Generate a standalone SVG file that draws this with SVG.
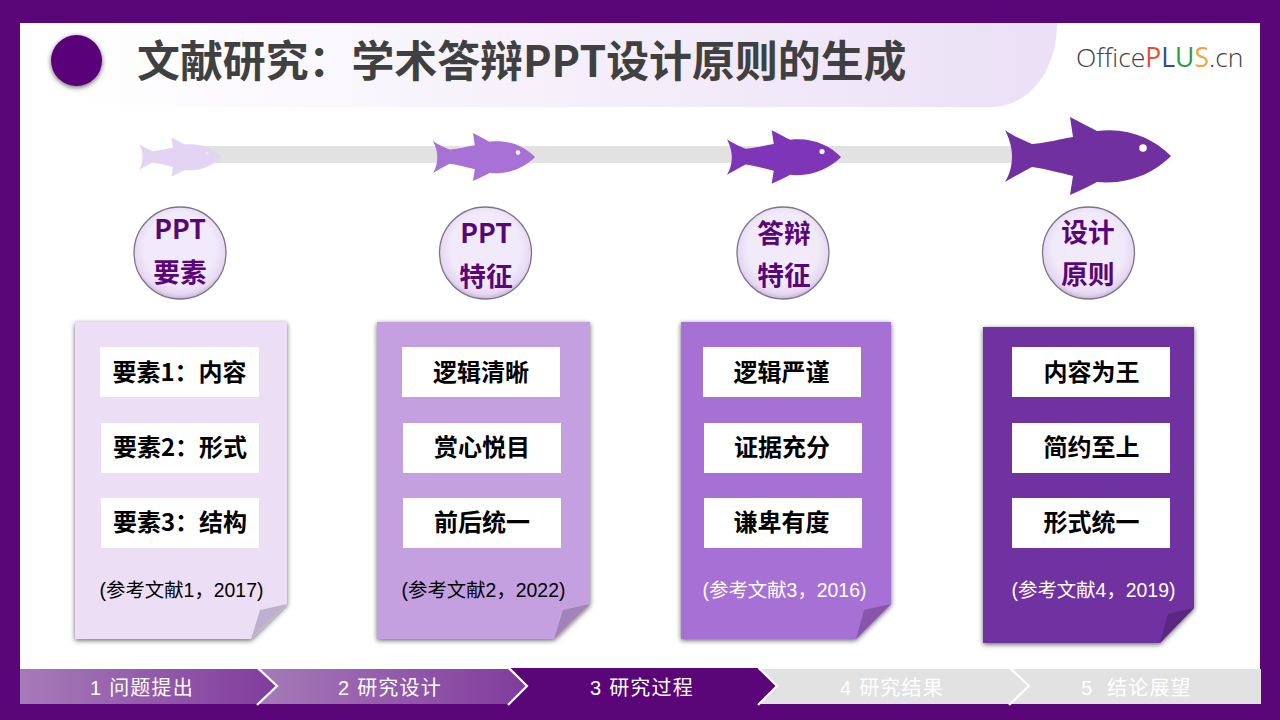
<svg xmlns="http://www.w3.org/2000/svg" xmlns:xlink="http://www.w3.org/1999/xlink" width="1280" height="720" viewBox="0 0 1280 720">
<style>
text{font-family:"Noto Sans CJK SC","Microsoft YaHei",sans-serif;text-anchor:middle}
.t{font-size:42.9px;font-weight:700;fill:#404040;text-anchor:start}
.c{font-size:26.67px;font-weight:700;fill:#5a0578}
.b{font-size:24px;font-weight:700;fill:#000}
.r{font-size:19.4px;font-family:"Liberation Sans","Noto Sans CJK SC",sans-serif}
.n{font-size:20px;fill:#fff;letter-spacing:1.200px;font-family:"Liberation Sans","Noto Sans CJK SC",sans-serif}
.box{fill:#fff}
.chev{fill:none;stroke:#fff;stroke-width:2.200}
.circ{fill:url(#cg);stroke:#7d7488;stroke-width:1.300}
</style>
<defs>
<linearGradient id="hg" x1="0" y1="0" x2="1" y2="0"><stop offset="0.05" stop-color="#fff"/><stop offset="1" stop-color="#ebe0f6"/></linearGradient>
<linearGradient id="ng" x1="0" y1="0" x2="1" y2="0"><stop offset="0" stop-color="#a67bb9"/><stop offset="1" stop-color="#803c9c"/></linearGradient>
<radialGradient id="cg" cx="0.5" cy="0.45" r="0.55"><stop offset="0.7" stop-color="#f1eafa"/><stop offset="0.9" stop-color="#e6d8f2"/><stop offset="1" stop-color="#c9b2da"/></radialGradient>
<filter id="sh" x="-15%" y="-15%" width="130%" height="130%"><feDropShadow dx="0" dy="1.500" stdDeviation="2.500" flood-color="#000" flood-opacity="0.6"/></filter>
<path id="fish" d="M0-26C8-20 18-16 27-12C42-13 55-17 68-19L65-39C75-34 84-29 92-25C125-29 150-16 166 0C150 16 125 29 92 26C84 30 75 35 65 39L68 20C55 17 42 13 27 11C18 16 8 21 0 26C5 18 7 9 7 0C7-9 4-18 0-26Z"/>
</defs>
<rect id="frame" width="1280" height="720" fill="#5a0578"/>
<rect id="page" x="20" y="23" width="1240" height="681" fill="#fff"/>
<g id="header">
<path d="M20 23H1057C1057 70 1030 107 990 107H20Z" fill="url(#hg)"/>
<circle cx="76.500" cy="60.500" r="25.500" fill="#5a0578" filter="url(#sh)"/>
<text class="t" x="137" y="77">文献研究&#xFF1A;学术答辩PPT设计原则的生成</text>
<text x="1076" y="67" style="text-anchor:start;font-family:'Open Sans',sans-serif;font-weight:300;font-size:26.500px" fill="#444">Office<tspan fill="#e4512b" font-weight="400">P</tspan><tspan fill="#2b4a9c" font-weight="400">L</tspan><tspan fill="#2c9a47" font-weight="400">U</tspan><tspan fill="#f2a33a" font-weight="400">S</tspan>.cn</text>
</g>
<g id="connectors">
<rect x="200" y="146" width="820" height="17" fill="#e2e2e2"/>
</g>
<g id="fish1"><use xlink:href="#fish" href="#fish" transform="translate(139 157) scale(.5)" fill="#e3d4f3"/><circle cx="207" cy="153" r="1.600" fill="#eee5f8"/></g>
<g id="fish2"><use xlink:href="#fish" href="#fish" transform="translate(433 157) scale(.615)" fill="#a871d6"/><circle cx="518" cy="152.500" r="2.300" fill="#fff"/></g>
<g id="fish3"><use xlink:href="#fish" href="#fish" transform="translate(727 157) scale(.687)" fill="#7f35b8"/><circle cx="822" cy="151.500" r="2.600" fill="#fff"/></g>
<g id="fish4"><use xlink:href="#fish" href="#fish" transform="translate(1005 156)" fill="#7030a0"/><circle cx="1143" cy="148" r="3.800" fill="#fff"/></g>
<g id="node1">
<circle class="circ" cx="180" cy="253" r="46"/>
<text class="c" x="180" y="239">PPT</text><text class="c" x="180" y="282">要素</text>
<path d="M75 322H287V604L251 639H75Z" fill="#ecdff5" filter="url(#sh)"/>
<path d="M287 604L260 610L251 639Z" fill="#bdb0cf"/>
<rect class="box" x="100" y="347" width="159" height="50"/><rect class="box" x="101" y="423" width="158" height="50"/><rect class="box" x="101" y="498" width="158" height="50"/>
<text class="b" x="179.500" y="381">要素1&#xFF1A;内容</text><text class="b" x="180" y="456">要素2&#xFF1A;形式</text><text class="b" x="180" y="531">要素3&#xFF1A;结构</text>
<text class="r" x="181.500" y="597" fill="#000">(参考文献1&#xFF0C;2017)</text>
</g>
<g id="node2">
<circle class="circ" cx="485.500" cy="253" r="46"/>
<text class="c" x="486" y="243">PPT</text><text class="c" x="486" y="286">特征</text>
<path d="M377 322H590V604L554 639H377Z" fill="#c5a0e0" filter="url(#sh)"/>
<path d="M590 604L563 610L554 639Z" fill="#a183b8"/>
<rect class="box" x="402" y="347" width="158" height="50"/><rect class="box" x="403" y="423" width="158" height="50"/><rect class="box" x="403" y="498" width="158" height="50"/>
<text class="b" x="481" y="381">逻辑清晰</text><text class="b" x="482" y="456">赏心悦目</text><text class="b" x="482" y="531">前后统一</text>
<text class="r" x="483.500" y="597" fill="#000">(参考文献2&#xFF0C;2022)</text>
</g>
<g id="node3">
<circle class="circ" cx="783" cy="253" r="46"/>
<text class="c" x="784" y="243">答辩</text><text class="c" x="784" y="285">特征</text>
<path d="M681 322H891V604L856 639H681Z" fill="#a770d5" filter="url(#sh)"/>
<path d="M891 604L864 610L856 639Z" fill="#8755ab"/>
<rect class="box" x="703" y="347" width="158" height="50"/><rect class="box" x="704" y="423" width="158" height="50"/><rect class="box" x="704" y="498" width="158" height="50"/>
<text class="b" x="781.500" y="381">逻辑严谨</text><text class="b" x="782" y="456">证据充分</text><text class="b" x="781.500" y="531">谦卑有度</text>
<text class="r" x="784.500" y="597" fill="#fff">(参考文献3&#xFF0C;2016)</text>
</g>
<g id="node4">
<circle class="circ" cx="1088.500" cy="253" r="46"/>
<text class="c" x="1088" y="241.500">设计</text><text class="c" x="1088" y="283.500">原则</text>
<path d="M983 327H1194V608L1160 643H983Z" fill="#7030a0" filter="url(#sh)"/>
<path d="M1194 608L1168 614L1160 643Z" fill="#592880"/>
<rect class="box" x="1012" y="347" width="158" height="50"/><rect class="box" x="1012" y="423" width="158" height="50"/><rect class="box" x="1012" y="498" width="158" height="50"/>
<text class="b" x="1091.500" y="381">内容为王</text><text class="b" x="1091.500" y="456">简约至上</text><text class="b" x="1091.500" y="531">形式统一</text>
<text class="r" x="1093.500" y="597" fill="#fff">(参考文献4&#xFF0C;2019)</text>
</g>
<g id="nav">
<g id="nav1"><path d="M20 669H257L277 686L257 704H20Z" fill="url(#ng)"/><text class="n" x="142" y="695">1 问题提出</text></g>
<g id="nav2"><path d="M257 669H508L527 686L508 704H257L277 686Z" fill="url(#ng)"/><text class="n" x="390" y="695">2 研究设计</text></g>
<g id="nav3"><path d="M508 668H758L777 686L758 704H508L527 686Z" fill="#5a0578"/><text class="n" x="642" y="695">3 研究过程</text></g>
<g id="nav4"><path d="M758 669H1009L1029 686L1009 704H758L777 686Z" fill="#e2e2e2"/><text class="n" x="892" y="695">4 研究结果</text></g>
<g id="nav5"><path d="M1009 669H1261V704H1009L1029 686Z" fill="#e2e2e2"/><text class="n" x="1136.500" y="695">5 &#160;结论展望</text></g>
<path class="chev" d="M257 667L277 686L257 705"/><path class="chev" d="M508 667L527 686L508 705"/><path class="chev" d="M758 667L777 686L758 705"/><path class="chev" d="M1009 667L1029 686L1009 705"/>
</g>
</svg>
